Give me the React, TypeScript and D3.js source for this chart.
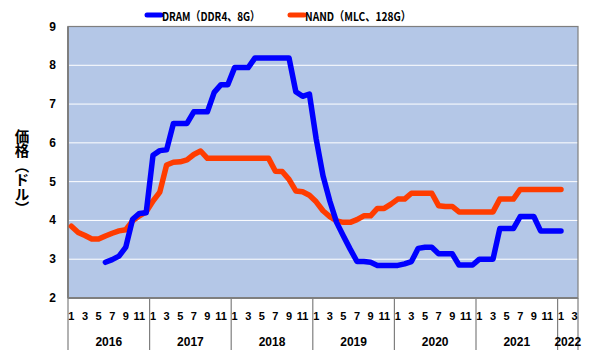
import { useMemo } from "react";
import * as d3 from "d3";

const WIDTH = 590;
const HEIGHT = 358;
const MARGIN = { top: 26.5, right: 12, bottom: 60, left: 68 };

// category axis: Jan 2016 .. Mar 2022
const years = [2016, 2017, 2018, 2019, 2020, 2021, 2022];
const monthsInYear = [12, 12, 12, 12, 12, 12, 3];
const yTicks = [2, 3, 4, 5, 6, 7, 8, 9];

// DRAM (DDR4, 8G) – starts May 2016, ends Jan 2022
const dram: (number | null)[] = [
  null, null, null, null, null, 2.92, 2.99, 3.08, 3.31, 4.03, 4.18, 4.2,
  5.68, 5.8, 5.82, 6.5, 6.5, 6.5, 6.8, 6.8, 6.8, 7.3, 7.5, 7.5,
  7.94, 7.94, 7.94, 8.19, 8.19, 8.19, 8.19, 8.19, 8.19, 7.32, 7.2, 7.26,
  6.1, 5.15, 4.5, 3.95, 3.6, 3.26, 2.94, 2.94, 2.92, 2.84, 2.84, 2.84,
  2.84, 2.88, 2.94, 3.28, 3.31, 3.31, 3.14, 3.14, 3.14, 2.85, 2.85, 2.85,
  3.0, 3.0, 3.0, 3.79, 3.79, 3.79, 4.1, 4.1, 4.1, 3.73, 3.73, 3.73,
  3.73, null, null,
];

// NAND (MLC, 128G)
const nand: (number | null)[] = [
  3.85, 3.69, 3.61, 3.52, 3.52, 3.6, 3.67, 3.73, 3.76, 3.99, 4.12, 4.22,
  4.5, 4.73, 5.43, 5.5, 5.51, 5.56, 5.7, 5.79, 5.6, 5.6, 5.6, 5.6,
  5.6, 5.6, 5.6, 5.6, 5.6, 5.6, 5.27, 5.26, 5.06, 4.76, 4.74, 4.65,
  4.48, 4.25, 4.1, 3.99, 3.95, 3.95, 4.02, 4.12, 4.12, 4.31, 4.31, 4.42,
  4.55, 4.55, 4.7, 4.7, 4.7, 4.7, 4.38, 4.36, 4.36, 4.22, 4.22, 4.22,
  4.22, 4.22, 4.22, 4.55, 4.55, 4.55, 4.8, 4.8, 4.8, 4.8, 4.8, 4.8,
  4.8, null, null,
];

const series = [
  { name: "DRAM（DDR4、8G）", values: dram, color: "#0000ff", legendX: 145, textLen: 98 },
  { name: "NAND（MLC、128G）", values: nand, color: "#ff3c00", legendX: 288, textLen: 106 },
];

const NUM_FONT = "'Liberation Sans', Arial, 'Noto Sans CJK JP', sans-serif";
const JP_FONT = "'Noto Sans CJK JP', 'Noto Sans', sans-serif";

const App = () => {
  const boundsWidth = WIDTH - MARGIN.left - MARGIN.right;
  const boundsHeight = HEIGHT - MARGIN.top - MARGIN.bottom;

  const categories = useMemo(() => {
    const out: { key: string; year: number; month: number }[] = [];
    years.forEach((y, yi) => {
      for (let m = 1; m <= monthsInYear[yi]; m++) out.push({ key: `${y}-${m}`, year: y, month: m });
    });
    return out;
  }, []);

  const xScale = useMemo(
    () => d3.scaleBand().domain(categories.map((c) => c.key)).range([0, boundsWidth]).padding(0),
    [categories, boundsWidth]
  );
  const yScale = useMemo(
    () => d3.scaleLinear().domain([2, 9]).range([boundsHeight, 0]),
    [boundsHeight]
  );
  const bw = xScale.bandwidth();

  const lineGen = d3
    .line<number | null>()
    .defined((d) => d !== null)
    .x((_, i) => (xScale(categories[i].key) ?? 0) + bw / 2)
    .y((d) => yScale(d as number));

  // year boundaries on the axis
  const yearBounds: { year: number; x0: number; x1: number }[] = [];
  years.forEach((y) => {
    const keys = categories.filter((c) => c.year === y);
    const x0 = xScale(keys[0].key) ?? 0;
    const x1 = (xScale(keys[keys.length - 1].key) ?? 0) + bw;
    yearBounds.push({ year: y, x0, x1 });
  });

  return (
    <div style={{ position: "absolute", left: 0, top: 0 }}>
      <svg width={WIDTH} height={HEIGHT} style={{ display: "block", background: "#ffffff" }}>
        {/* legend */}
        {series.map((s) => (
          <g key={s.name}>
            <line
              x1={s.legendX + 2}
              x2={s.legendX + 16}
              y1={15}
              y2={15}
              stroke={s.color}
              strokeWidth={5}
              strokeLinecap="round"
            />
            <text
              x={s.legendX + 17}
              y={15}
              dominantBaseline="central"
              fontFamily={JP_FONT}
              fontWeight="bold"
              fontSize={12}
              textLength={s.textLen}
              lengthAdjust="spacingAndGlyphs"
              fill="#000"
            >
              {s.name}
            </text>
          </g>
        ))}

        {/* y axis title, vertical writing */}
        <text
          x={22}
          y={129}
          fontFamily={JP_FONT}
          fontWeight="bold"
          fontSize={14.5}
          style={{ writingMode: "vertical-rl" }}
        >
          価格（ドル）
        </text>

        <g transform={`translate(${MARGIN.left},${MARGIN.top})`}>
          <rect x={0} y={0} width={boundsWidth} height={boundsHeight} fill="#b4c7e7" />
          {yTicks.slice(1, -1).map((t) => (
            <line key={t} x1={0} x2={boundsWidth} y1={yScale(t)} y2={yScale(t)} stroke="#ffffff" strokeWidth={1} />
          ))}
          <rect x={0} y={0} width={boundsWidth} height={boundsHeight} fill="none" stroke="#7f7f7f" strokeWidth={1.2} />
          <line x1={0} x2={boundsWidth} y1={boundsHeight} y2={boundsHeight} stroke="#7f7f7f" strokeWidth={2} />
          <line x1={0} x2={0} y1={0} y2={boundsHeight} stroke="#7f7f7f" strokeWidth={2} />

          {/* y tick labels */}
          {yTicks.map((t) => (
            <text
              key={t}
              x={-12}
              y={yScale(t)}
              textAnchor="end"
              dominantBaseline="central"
              fontFamily={NUM_FONT}
              fontWeight="bold"
              fontSize={12}
            >
              {t}
            </text>
          ))}

          {/* year dividers */}
          {[...yearBounds.map((b) => b.x0), boundsWidth].map((x, i) => (
            <line key={i} x1={x} x2={x} y1={boundsHeight} y2={boundsHeight + 52} stroke="#7f7f7f" strokeWidth={1.2} />
          ))}

          {/* month labels */}
          {categories.map((c) =>
            c.month % 2 === 1 ? (
              <text
                key={c.key}
                x={(xScale(c.key) ?? 0) + bw / 2}
                y={boundsHeight + 18}
                textAnchor="middle"
                dominantBaseline="central"
                fontFamily={NUM_FONT}
                fontWeight="bold"
                fontSize={11}
              >
                {c.month}
              </text>
            ) : null
          )}

          {/* year labels */}
          {yearBounds.map((b) => (
            <text
              key={b.year}
              x={(b.x0 + b.x1) / 2}
              y={boundsHeight + 44}
              textAnchor="middle"
              dominantBaseline="central"
              fontFamily={NUM_FONT}
              fontWeight="bold"
              fontSize={12}
            >
              {b.year}
            </text>
          ))}

          {/* lines: NAND first, DRAM on top */}
          {[series[1], series[0]].map((s) => (
            <path
              key={s.name}
              d={lineGen(s.values) ?? ""}
              fill="none"
              stroke={s.color}
              strokeWidth={5.5}
              strokeLinejoin="round"
              strokeLinecap="round"
            />
          ))}
        </g>
      </svg>
    </div>
  );
};

export default App;
